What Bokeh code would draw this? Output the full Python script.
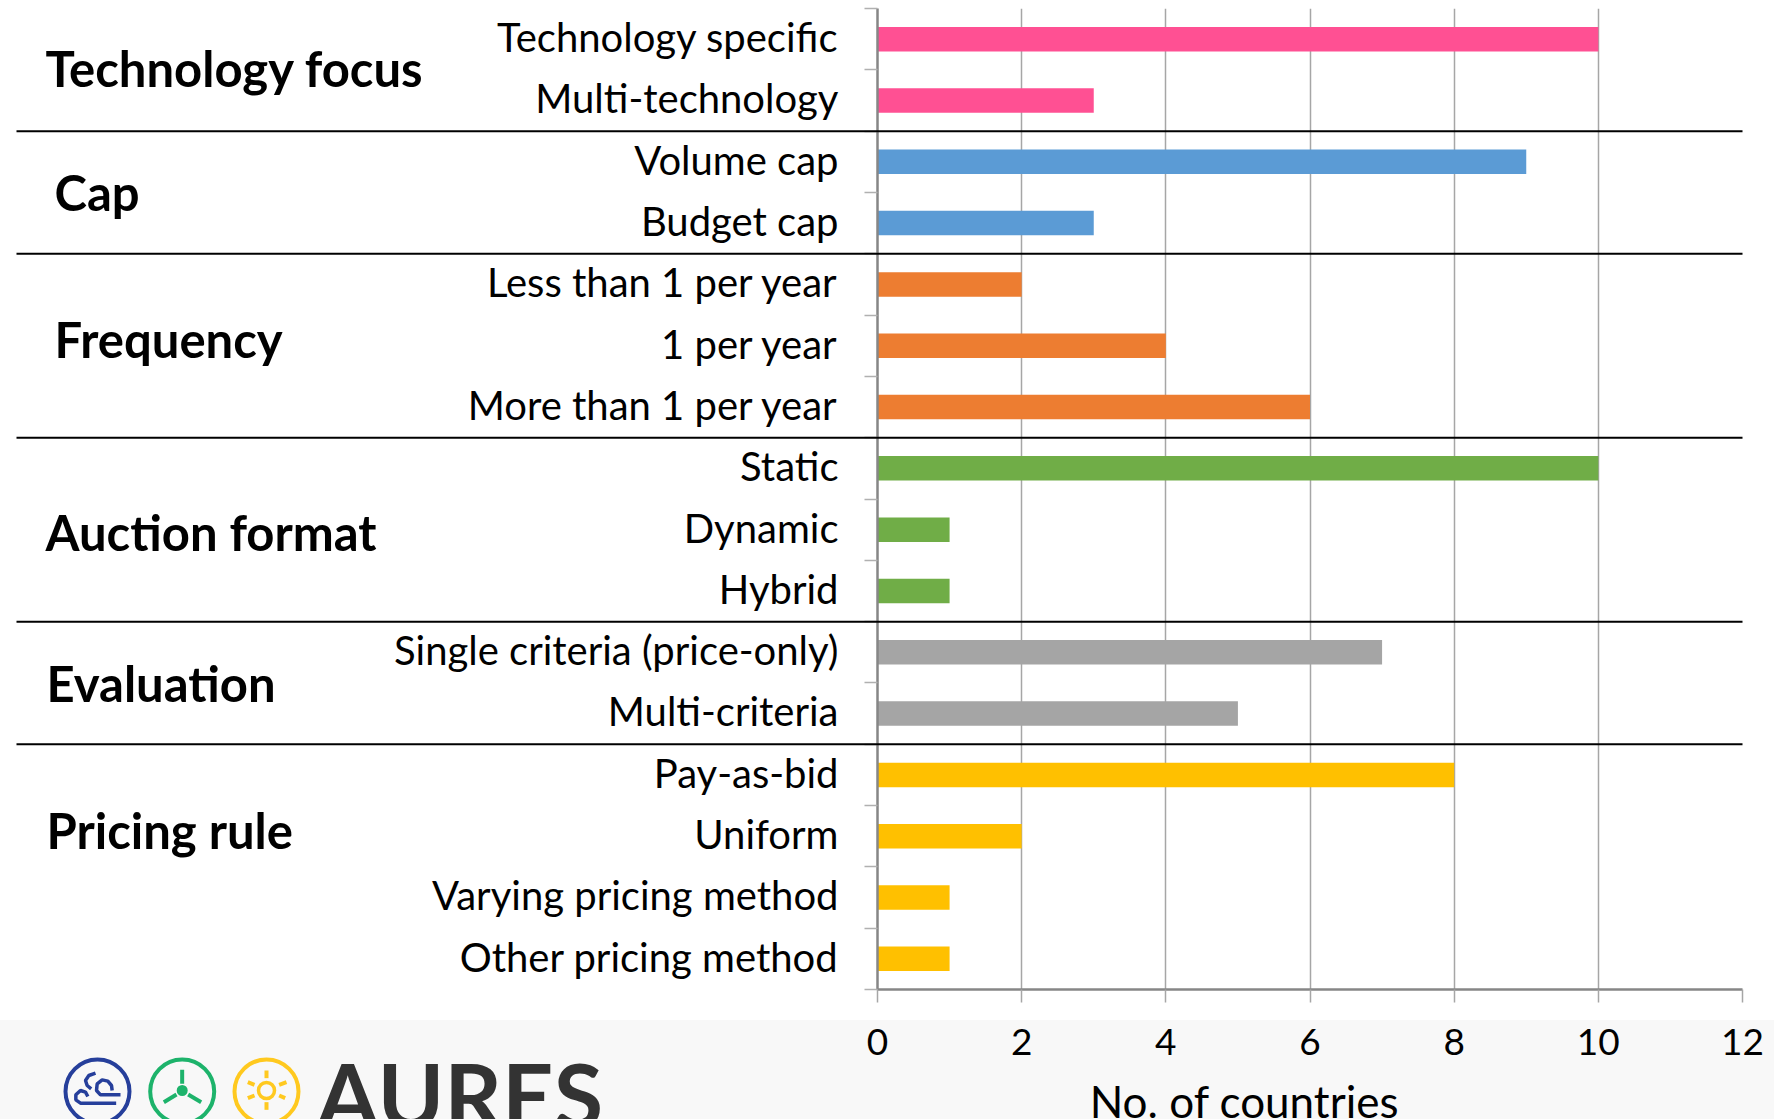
from bokeh.plotting import figure
from bokeh.layouts import column
from bokeh.core.properties import value
from bokeh.models import Range1d, LinearAxis, FixedTicker
from bokeh.embed import file_html
from bokeh.resources import INLINE

categories = ["Technology specific", "Multi-technology", "Volume cap", "Budget cap",
              "Less than 1 per year", "1 per year", "More than 1 per year",
              "Static", "Dynamic", "Hybrid", "Single criteria (price-only)", "Multi-criteria",
              "Pay-as-bid", "Uniform", "Varying pricing method", "Other pricing method"]
values = [10, 3, 9, 3, 2, 4, 6, 10, 1, 1, 7, 5, 8, 2, 1, 1]
group_names = ["Technology focus", "Cap", "Frequency", "Auction format", "Evaluation", "Pricing rule"]
group_sizes = [2, 2, 3, 3, 2, 4]
group_colors = ["#FF5093", "#5B9BD5", "#ED7D31", "#70AD47", "#A5A5A5", "#FFC000"]
x_ticks = [0, 2, 4, 6, 8, 10, 12]
x_title = "No. of countries"

FONT = "Lato"
W, H = 1774, 1119
F_LEFT, F_RIGHT, F_TOP, F_BOTTOM = 877, 1742, 8, 989
N = len(categories)

bar_colors = []
for c, n in zip(group_colors, group_sizes):
    bar_colors += [c] * n
centres = [N - i - 0.5 for i in range(N)]
label_ticks = [c + 0.035 for c in centres]  # text sits slightly above the bar centre

p = figure(width=W, height=H, output_backend="svg", toolbar_location=None,
           x_range=Range1d(0, 12), y_range=Range1d(0, N),
           y_axis_type=None, x_axis_location="below",
           min_border_left=F_LEFT, min_border_right=W - F_RIGHT,
           min_border_top=F_TOP, min_border_bottom=H - F_BOTTOM, outline_line_color=None,
           border_fill_color=None, background_fill_color=None, frame_align=False,
           styles={"background": "linear-gradient(#FFFFFF 0, #FFFFFF 1020px, #F8F8F8 1020px)"})

p.hbar(y=centres, right=values, left=0, height=0.4, color=bar_colors, line_color=None)

edge_axis = LinearAxis(ticker=FixedTicker(ticks=list(range(N + 1))),
                       major_label_text_font_size="0px", major_label_text_color=None, major_label_standoff=0,
                       axis_line_color="#868686", axis_line_width=2.5,
                       major_tick_line_color="#B0B0B0", major_tick_line_width=1.5,
                       major_tick_in=0, major_tick_out=13, minor_tick_line_color=None)
p.add_layout(edge_axis, "left")
cat_axis = LinearAxis(ticker=FixedTicker(ticks=label_ticks),
                      major_label_overrides=dict(zip(label_ticks, categories)),
                      axis_line_color=None, major_tick_line_color=None, major_tick_out=0, major_tick_in=0,
                      minor_tick_line_color=None,
                      major_label_text_font=FONT, major_label_text_font_size="40px",
                      major_label_text_color="#000000", major_label_standoff=26)
p.add_layout(cat_axis, "left")

xa = p.xaxis[0]
xa.ticker = FixedTicker(ticks=x_ticks)
xa.axis_line_color = "#868686"
xa.axis_line_width = 2.5
xa.major_tick_line_color = "#A6A6A6"
xa.major_tick_line_width = 1.5
xa.major_tick_in = 0
xa.major_tick_out = 13
xa.minor_tick_line_color = None
xa.major_label_text_font = FONT
xa.major_label_text_font_size = "37px"
xa.major_label_text_color = "#000000"
xa.major_label_standoff = 26

p.ygrid.visible = False
p.xgrid.ticker = FixedTicker(ticks=x_ticks)
p.xgrid.grid_line_color = "#A6A6A6"
p.xgrid.grid_line_width = 1.5

# transparent page-sized layer on top, for the texts and rules that lie outside the plot area
o = figure(width=W, height=H, output_backend="svg", toolbar_location=None,
           x_range=Range1d(0, W), y_range=Range1d(H, 0), x_axis_type=None, y_axis_type=None,
           min_border=0, outline_line_color=None, border_fill_color=None, background_fill_color=None,
           frame_align=False, margin=(-H, 0, 0, 0))

# group separators
row_px = (F_BOTTOM - F_TOP) / N
edge = 0
sep_y = []
for n in group_sizes[:-1]:
    edge += n
    sep_y.append(F_TOP + edge * row_px)
o.segment(x0=[16] * len(sep_y), x1=[F_RIGHT] * len(sep_y), y0=sep_y, y1=sep_y, line_color="#000000", line_width=2)

# group titles
title_x = [45, 54, 54, 45, 46, 46]
title_y = [67, 191, 338, 531, 682, 829]
o.text(x=title_x, y=title_y, text=group_names, text_font=value(FONT), text_font_style="bold",
       text_font_size="49px", text_color="#000000", text_baseline="middle", text_align="left")

o.text(x=[1244], y=[1100], text=[x_title], text_font=value(FONT), text_font_size="44px",
       text_color="#000000", text_baseline="middle", text_align="center")

# footer logo
def stroke(pts, color, lw=3.5):
    o.line(x=[50 + a / 3 for a, b in pts], y=[1040 + b / 3 for a, b in pts], line_color=color, line_width=lw)

BLUE, GREEN, YELLOW = "#263F9B", "#1DB36B", "#FFC91F"
o.circle(x=[97, 181.7, 266], y=[1091] * 3, radius=32, fill_color=None,
         line_color=[BLUE, GREEN, YELLOW], line_width=4)
# wave
stroke([(197, 188), (90, 188), (76, 178), (76, 163), (90, 150), (105, 155), (112, 168)], BLUE)
stroke([(210, 163), (150, 163), (138, 150), (140, 130), (155, 118), (172, 122), (183, 135), (185, 150)], BLUE)
stroke([(135, 98), (115, 105), (105, 120), (110, 135), (122, 145)], BLUE)
# turbine
o.circle(x=[181.7], y=[1090], radius=5.5, fill_color=GREEN, line_color=None)
stroke([(395, 88), (395, 130)], GREEN, 4)
stroke([(340, 185), (378, 162)], GREEN, 4)
stroke([(452, 185), (413, 162)], GREEN, 4)
# sun
o.circle(x=[266], y=[1090], radius=8, fill_color=None, line_color=YELLOW, line_width=3.5)
stroke([(648, 90), (648, 113)], YELLOW, 4)
stroke([(648, 185), (648, 208)], YELLOW, 4)
stroke([(592, 125), (612, 133)], YELLOW, 4)
stroke([(708, 125), (686, 133)], YELLOW, 4)
stroke([(592, 173), (612, 165)], YELLOW, 4)
stroke([(704, 173), (686, 165)], YELLOW, 4)

o.text(x=[316], y=[1093], text=["AURES"], text_font=value(FONT), text_font_style="bold",
       text_font_size="90px", text_color="#333333", text_baseline="alphabetic", text_align="left")

open("out.html", "w").write(file_html(column(p, o, spacing=0), INLINE))
